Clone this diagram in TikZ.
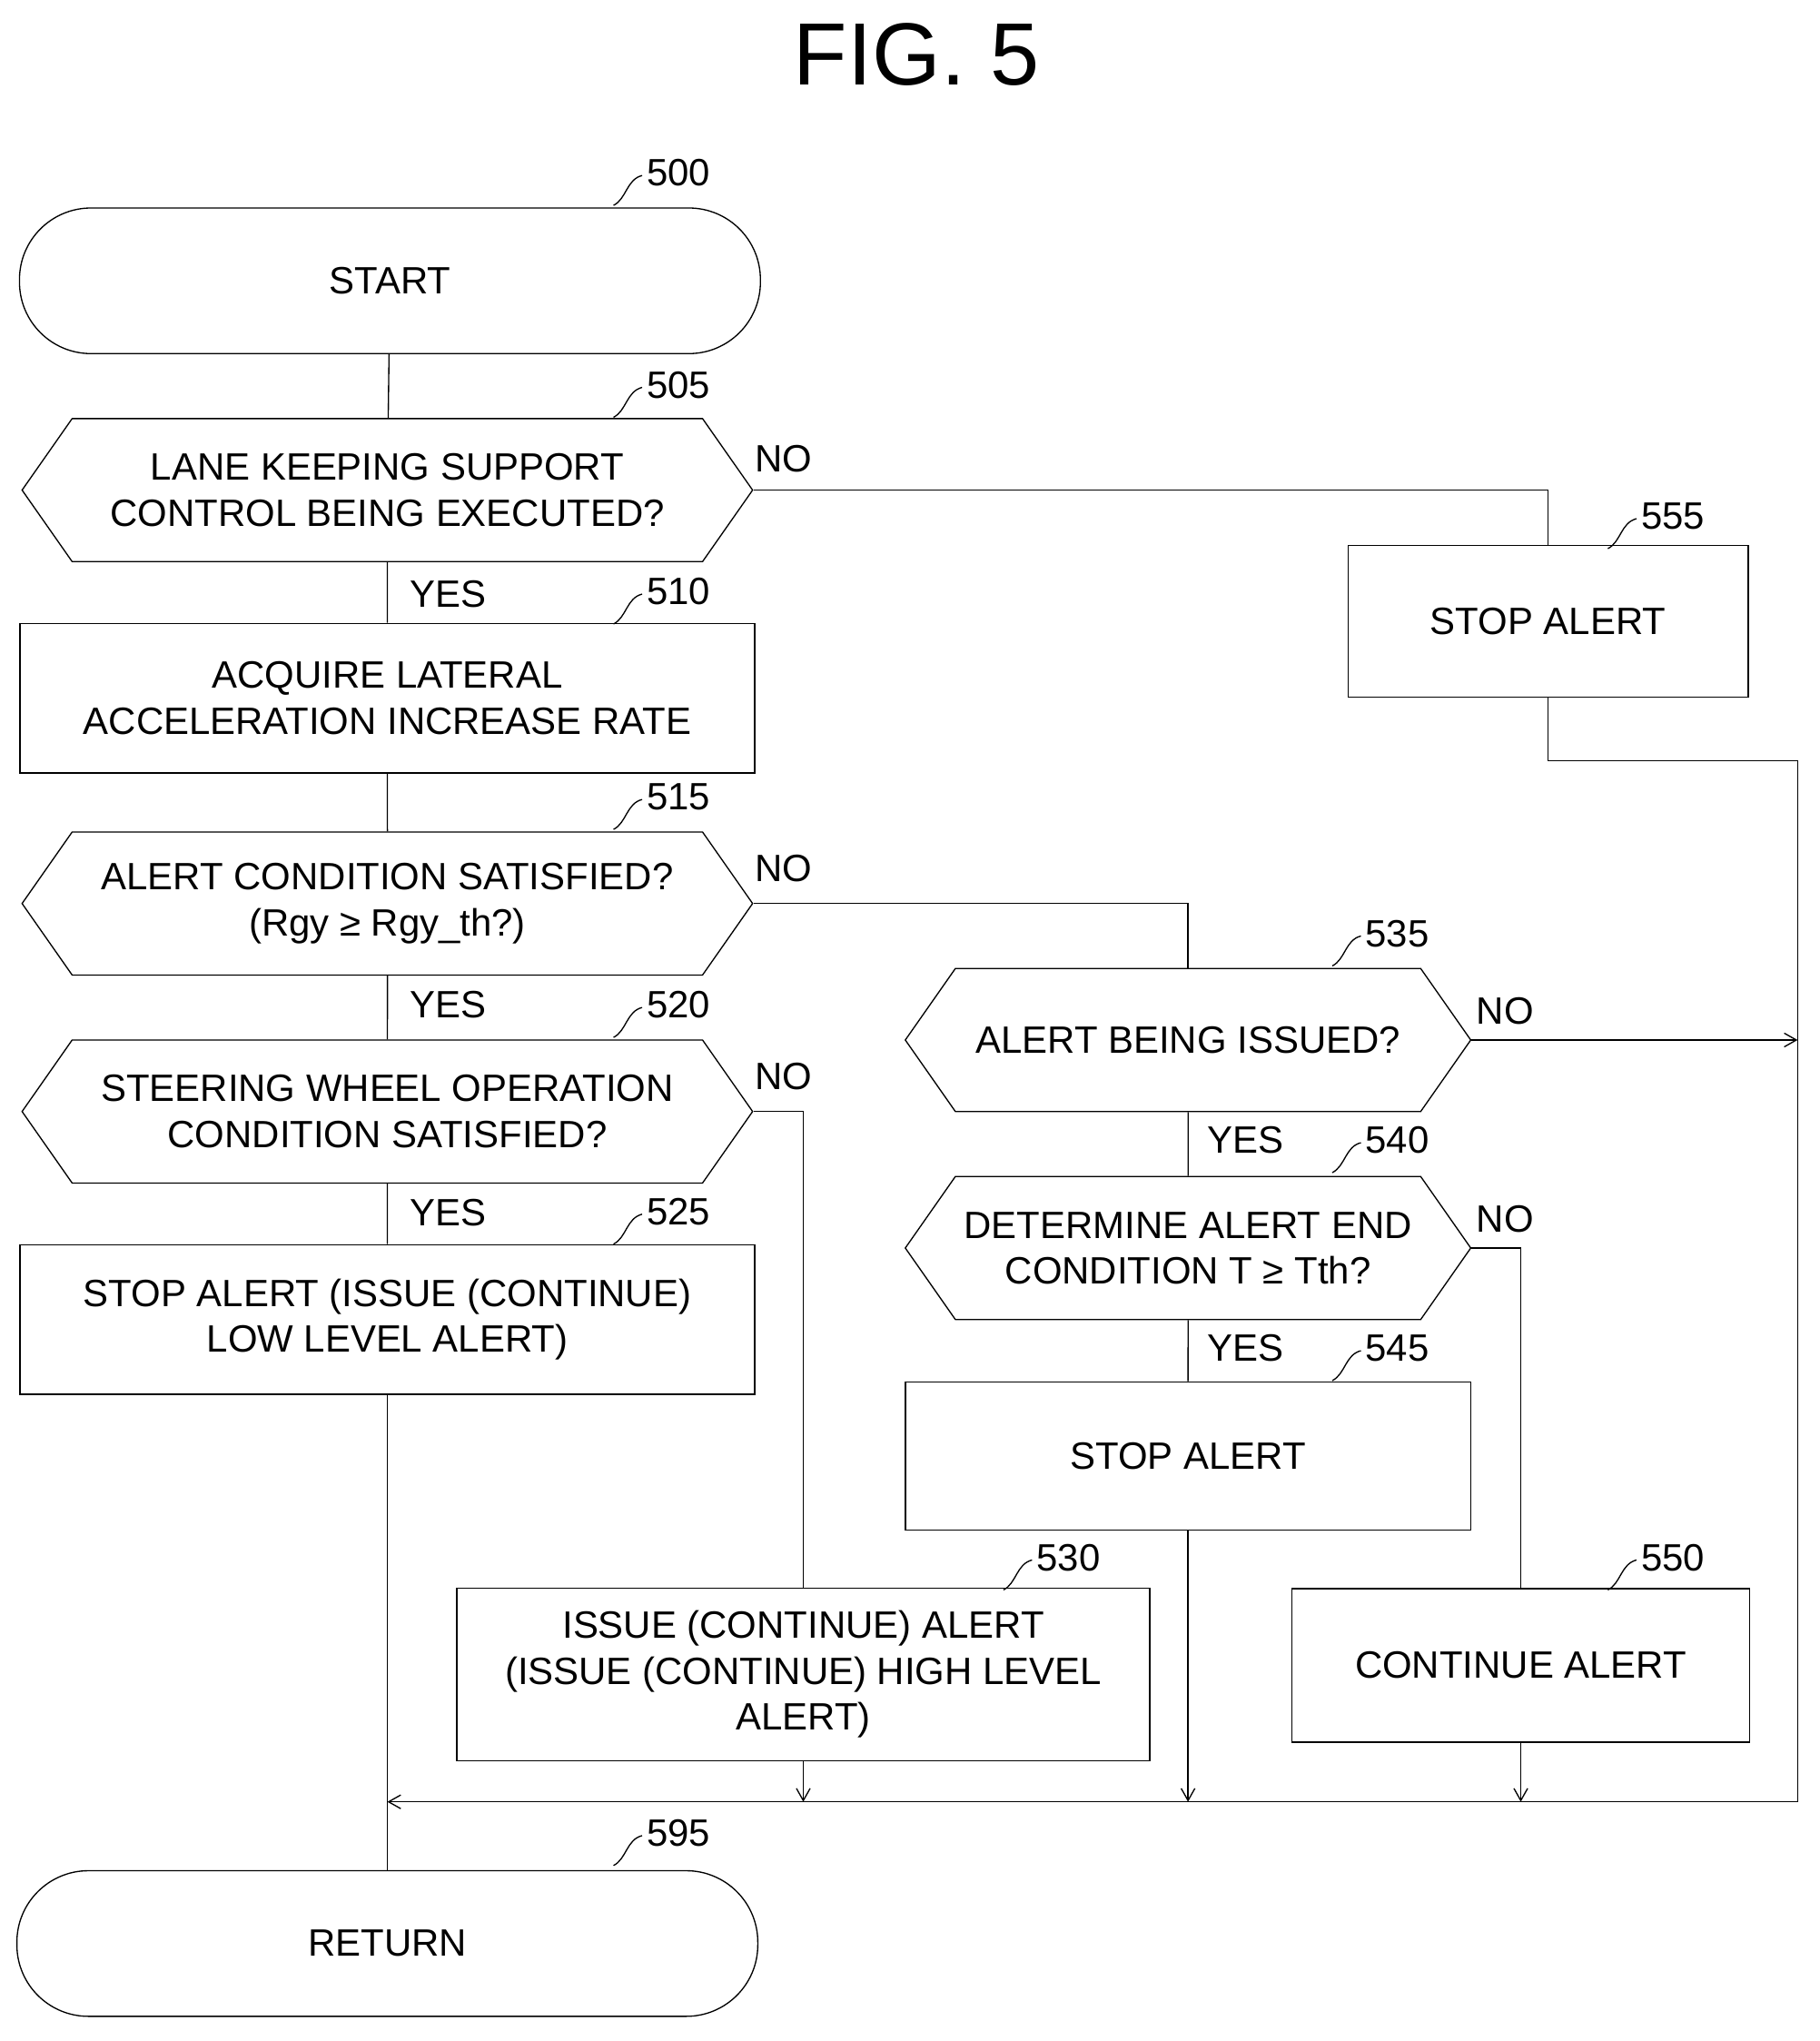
\documentclass[tikz,border=0pt]{standalone}
\usepackage{fontspec}
\setmainfont{Liberation Sans}
\usetikzlibrary{shapes.symbols,arrows.meta}
\tikzset{
  box/.style = {draw, thick, align=center, inner sep=0pt},
  term/.style = {draw, thick, rounded corners=1.65cm, align=center, minimum width=17.1cm, minimum height=3.36cm},
  hex/.style = {draw, thick, signal, signal to=east and west, signal pointer angle=110, align=center, inner sep=0pt},
  lbl/.style = {font=\fontsize{25}{30}\selectfont},
  flow/.style = {thick},
  tip/.style = {thick, -{Straight Barb[length=8pt,width=9pt]}}
}
\newcommand{\stepnum}[3]{% node, x, y
  \node[lbl] at (#2,#3) {#1};
  \draw[thick] (#2-50,#3+25) .. controls (#2-40,#3+20) and (#2-40,#3+5) .. (#2-28,#3+2);
}
\begin{document}
\begin{tikzpicture}[x=0.03cm, y=-0.03cm, every node/.style={font=\fontsize{25}{30}\selectfont}]
\useasboundingbox (0,0) rectangle (1400,1570);
\node[font=\fontsize{58}{60}\selectfont] (title) at (705,42) {FIG. 5};

\node[term] (start) at (300,216) {START};
\node[hex, minimum width=16.86cm, minimum height=3.3cm] (s505) at (298,377) {LANE KEEPING SUPPORT\\CONTROL BEING EXECUTED?};
\node[box, minimum width=16.95cm, minimum height=3.45cm] (s510) at (298,537) {ACQUIRE LATERAL\\ACCELERATION INCREASE RATE};
\node[hex, minimum width=16.86cm, minimum height=3.3cm] (s515) at (298,695) {ALERT CONDITION SATISFIED?\\(Rgy ≥ Rgy\_th?)};
\node[hex, minimum width=16.86cm, minimum height=3.3cm] (s520) at (298,855) {STEERING WHEEL OPERATION\\CONDITION SATISFIED?};
\node[box, minimum width=16.95cm, minimum height=3.45cm] (s525) at (298,1015) {STOP ALERT (ISSUE (CONTINUE)\\LOW LEVEL ALERT)};
\node[box, minimum width=9.24cm, minimum height=3.5cm] (s555) at (1191,478) {STOP ALERT};
\node[hex, minimum width=13.05cm, minimum height=3.3cm] (s535) at (914,800) {ALERT BEING ISSUED?};
\node[hex, minimum width=13.05cm, minimum height=3.3cm] (s540) at (914,960) {DETERMINE ALERT END\\CONDITION T ≥ Tth?};
\node[box, minimum width=13.05cm, minimum height=3.42cm] (s545) at (914,1120) {STOP ALERT};
\node[box, minimum width=15.99cm, minimum height=3.99cm] (s530) at (618,1288) {ISSUE (CONTINUE) ALERT\\(ISSUE (CONTINUE) HIGH LEVEL\\ALERT)};
\node[box, minimum width=10.56cm, minimum height=3.54cm] (s550) at (1170,1281) {CONTINUE ALERT};
\node[term] (ret) at (298,1495) {RETURN};

\coordinate (m0) at (298,1386);
\coordinate (m1) at (618,1386);
\coordinate (m2) at (914,1386);
\coordinate (m3) at (1170,1386);
\coordinate (m4) at (1383,1386);
\coordinate (r1) at (1191,585);
\coordinate (r2) at (1383,585);
\coordinate (r3) at (1383,800);

% main column
\draw[flow] (start) -- (s505);
\draw[flow] (s505) -- (s510);
\draw[flow] (s510) -- (s515);
\draw[flow] (s515) -- (s520);
\draw[flow] (s520) -- (s525);
\draw[flow] (s525) -- (ret);
% branches
\draw[flow] (s505.east) -- (1191,377) -- (s555.north);
\draw[flow] (s555.south) -- (r1) -- (r2) -- (m4) -- (m3);
\draw[flow] (s515.east) -- (914,695) -- (s535.north);
\draw[flow] (s535) -- (s540);
\draw[flow] (s540) -- (s545);
\draw[flow] (s520.east) -- (618,855) -- (s530.north);
\draw[flow] (s540.east) -- (1170,960) -- (s550.north);
\draw[tip] (s535.east) -- (r3);
% merge
\draw[tip] (m3) -- (m0);
\draw[tip] (s530.south) -- (m1);
\draw[tip] (s545.south) -- (m2);
\draw[tip] (s550.south) -- (m3);

% yes / no
\node[lbl] at (603,353) {NO};
\node[lbl] at (603,668) {NO};
\node[lbl] at (603,828) {NO};
\node[lbl] at (1158,778) {NO};
\node[lbl] at (1158,938) {NO};
\node[lbl] at (345,457) {YES};
\node[lbl] at (345,773) {YES};
\node[lbl] at (345,933) {YES};
\node[lbl] at (958,877) {YES};
\node[lbl] at (958,1037) {YES};

% step numbers
\stepnum{500}{522}{133}
\stepnum{505}{522}{296}
\stepnum{510}{522}{455}
\stepnum{515}{522}{613}
\stepnum{520}{522}{773}
\stepnum{525}{522}{932}
\stepnum{555}{1287}{397}
\stepnum{535}{1075}{718}
\stepnum{540}{1075}{877}
\stepnum{545}{1075}{1037}
\stepnum{530}{822}{1198}
\stepnum{550}{1287}{1198}
\stepnum{595}{522}{1410}
\end{tikzpicture}
\end{document}
